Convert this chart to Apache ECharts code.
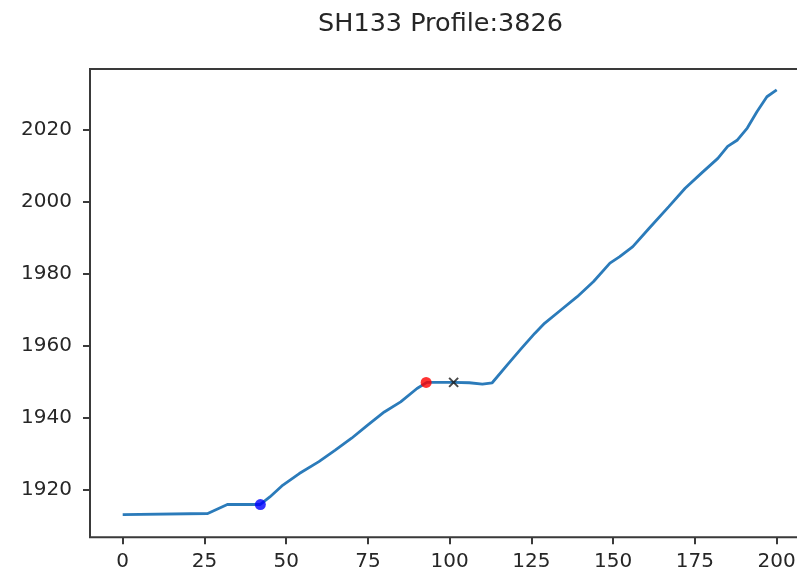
<!DOCTYPE html>
<html>
<head>
<meta charset="utf-8">
<script src="https://cdn.jsdelivr.net/npm/echarts@6/dist/echarts.min.js"></script>
<style>
  html, body { margin: 0; padding: 0; background: #fff; overflow: hidden; width: 797px; height: 573px; }
  #chart { width: 830px; height: 573px; }
</style>
</head>
<body>
<div id="chart"></div>
<script>
const chartTitle = 'SH133 Profile:3826';
const distances = [0, 26, 32, 42, 45, 49, 54, 60, 65, 70, 75, 80, 85, 90, 93, 101, 106, 110, 113, 118, 122, 126, 129, 134, 139, 144, 149, 152, 156, 161, 167, 172, 177, 182, 185, 188, 191, 194, 197, 200];
const elevations = [1913.2, 1913.5, 1916.0, 1916.0, 1918.1, 1921.4, 1924.6, 1927.9, 1931.1, 1934.4, 1938.1, 1941.7, 1944.5, 1948.2, 1949.9, 1949.9, 1949.8, 1949.4, 1949.8, 1955.2, 1959.4, 1963.5, 1966.3, 1970.0, 1973.7, 1977.9, 1983.0, 1984.8, 1987.6, 1992.7, 1998.7, 2003.8, 2008.0, 2012.1, 2015.4, 2017.2, 2020.5, 2025.1, 2029.2, 2031.1];
const bluePoint = [42.1, 1916.0];
const redPoint = [92.8, 1949.9];
const crossPoint = [101.2, 1949.9];
const xTicks = [0, 25, 50, 75, 100, 125, 150, 175, 200];
const yTicks = [1920, 1940, 1960, 1980, 2000, 2020];

const profile = distances.map((d, i) => [d, elevations[i]]);
const font = 'DejaVu Sans';
const axisColor = '#3a3a3a';

const chart = echarts.init(document.getElementById('chart'), null, { renderer: 'canvas' });
chart.setOption({
  animation: false,
  backgroundColor: '#ffffff',
  title: {
    text: chartTitle,
    left: 435.5,
    textAlign: 'center',
    top: 6,
    textStyle: { fontFamily: font, fontSize: 25.5, fontWeight: 'normal', color: '#262626' }
  },
  grid: {
    left: 90, top: 69, width: 719.4, height: 468.3,
    show: true, borderColor: axisColor, borderWidth: 2, backgroundColor: 'transparent',
    containLabel: false
  },
  xAxis: {
    type: 'value', min: -10, max: 210,
    axisLine: { show: false, onZero: false },
    splitLine: { show: false },
    axisTick: { show: true, length: 7, lineStyle: { color: axisColor, width: 2 }, customValues: xTicks },
    axisLabel: { fontFamily: font, fontSize: 20, color: '#262626', margin: 14, customValues: xTicks,
      formatter: v => String(v) }
  },
  yAxis: {
    type: 'value', min: 1906.9, max: 2036.9,
    axisLine: { show: false, onZero: false },
    splitLine: { show: false },
    axisTick: { show: true, length: 7, lineStyle: { color: axisColor, width: 2 }, customValues: yTicks },
    axisLabel: { fontFamily: font, fontSize: 20, color: '#262626', margin: 18, customValues: yTicks,
      formatter: v => String(v) }
  },
  series: [
    {
      type: 'line', data: profile, showSymbol: false, smooth: false,
      lineStyle: { color: '#2b7bba', width: 2.8 }, z: 2
    },
    {
      type: 'scatter', data: [bluePoint], symbol: 'circle', symbolSize: 11,
      itemStyle: { color: '#0000ff' }, z: 3
    },
    {
      type: 'scatter', data: [redPoint], symbol: 'circle', symbolSize: 11,
      itemStyle: { color: '#ff0000' }, z: 3
    },
    {
      type: 'scatter', data: [crossPoint], symbol: 'path://M0,0L10,10M10,0L0,10', symbolSize: 9,
      itemStyle: { color: 'transparent', borderColor: '#1a1a1a', borderWidth: 2 }, z: 3
    }
  ]
});
</script>
</body>
</html>
